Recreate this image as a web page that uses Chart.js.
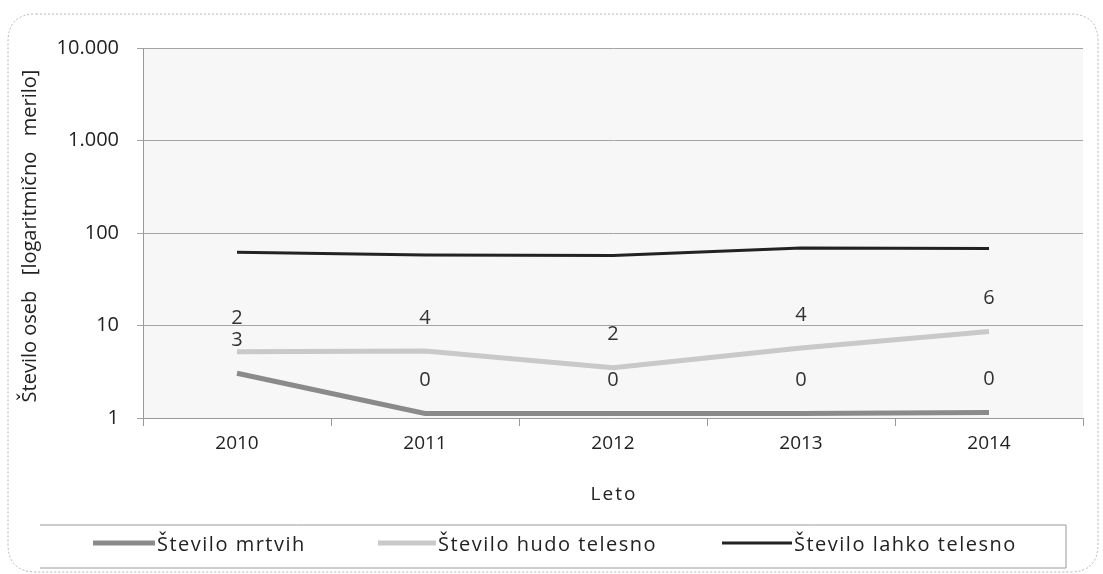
<!DOCTYPE html>
<html><head><meta charset="utf-8">
<script src="https://cdn.jsdelivr.net/npm/chart.js@4/dist/chart.umd.min.js"></script>
<style>html,body{margin:0;padding:0;background:#fff;}#wrap{width:1103px;height:574px;position:relative;}</style>
</head><body><div id="wrap"><canvas id="c" width="1103" height="574"></canvas></div>
<script>
const categories = ['2010','2011','2012','2013','2014'];
const mrtvih = [3.05, 1.12, 1.12, 1.12, 1.15];
const mrtvihLabels = ['3','0','0','0','0'];
const hudo = [5.2, 5.3, 3.5, 5.7, 8.6];
const hudoLabels = ['2','4','2','4','6'];
const lahko = [62, 58, 57, 69, 68];
const yTicks = [1, 10, 100, 1000, 10000];
const seriesNames = ['Število mrtvih','Število hudo telesno','Število lahko telesno'];
const FONT = '"Open Sans", Lato, sans-serif';

const deco = {
  id:'deco',
  beforeDraw(chart){
    const {ctx, chartArea:a} = chart;
    ctx.save();
    ctx.fillStyle = '#f7f7f7';
    ctx.fillRect(a.left, a.top, a.right-a.left, a.bottom-a.top);
    ctx.strokeStyle = '#b5b5b5'; ctx.lineWidth = 1; ctx.setLineDash([2,2]);
    const x0=8,y0=14,x1=1098,y1=572,r=28;
    ctx.beginPath();
    ctx.moveTo(x0+r,y0); ctx.lineTo(x1-r,y0); ctx.quadraticCurveTo(x1,y0,x1,y0+r);
    ctx.lineTo(x1,y1-r); ctx.quadraticCurveTo(x1,y1,x1-r,y1);
    ctx.lineTo(x0+r,y1); ctx.quadraticCurveTo(x0,y1,x0,y1-r);
    ctx.lineTo(x0,y0+r); ctx.quadraticCurveTo(x0,y0,x0+r,y0); ctx.stroke();
    ctx.restore();
  },
  afterDraw(chart){
    const {ctx} = chart;
    ctx.save();
    ctx.font = '20px '+FONT; ctx.fillStyle = '#333'; ctx.textAlign='center'; ctx.textBaseline='middle';
    const lbls = [mrtvihLabels, hudoLabels, null];
    lbls.forEach((L,di)=>{
      if(!L) return;
      chart.getDatasetMeta(di).data.forEach((p,i)=>{ ctx.fillText(L[i], p.x, p.y-33); });
    });
    ctx.font = '19px '+FONT; ctx.fillStyle='#222';
    ctx.letterSpacing = '2px';
    ctx.fillText('Leto', 614, 495);
    ctx.letterSpacing = '0px';
    ctx.save(); ctx.translate(30, 236); ctx.rotate(-Math.PI/2);
    ctx.font = '20px '+FONT;
    ctx.fillText('Število oseb   [logaritmično   merilo]', 0, 0); ctx.restore();
    ctx.strokeStyle='#999'; ctx.lineWidth=1; ctx.setLineDash([]);
    ctx.beginPath(); ctx.moveTo(40,525); ctx.lineTo(1066,525); ctx.lineTo(1066,568); ctx.lineTo(40,568); ctx.stroke();
    const items = [{x:93,w:62,c:'#8a8a8a',lw:5},{x:378,w:58,c:'#c9c9c9',lw:5},{x:722,w:70,c:'#222',lw:3}];
    ctx.font='20px '+FONT; ctx.textAlign='left'; ctx.fillStyle='#222';
    ctx.letterSpacing = '1.5px';
    items.forEach((it,i)=>{
      ctx.strokeStyle=it.c; ctx.lineWidth=it.lw; ctx.beginPath(); ctx.moveTo(it.x,543); ctx.lineTo(it.x+it.w,543); ctx.stroke();
      ctx.fillText(seriesNames[i], it.x+it.w+2, 545);
    });
    ctx.restore();
  }
};

new Chart(document.getElementById('c'), {
  type:'line',
  data:{ labels:categories, datasets:[
    {label:seriesNames[0], data:mrtvih, borderColor:'#8a8a8a', borderWidth:5, pointRadius:0, tension:0},
    {label:seriesNames[1], data:hudo, borderColor:'#c9c9c9', borderWidth:5, pointRadius:0, tension:0},
    {label:seriesNames[2], data:lahko, borderColor:'#222', borderWidth:3, pointRadius:0, tension:0}
  ]},
  plugins:[deco],
  options:{
    responsive:false, animation:false, devicePixelRatio:1,
    layout:{padding:{left:0,right:20,top:48,bottom:0}},
    plugins:{legend:{display:false}, tooltip:{enabled:false}},
    scales:{
      x:{ offset:true,
        grid:{offset:true, drawOnChartArea:false, drawTicks:true, tickLength:8, color:'#999'},
        border:{color:'#999'},
        ticks:{font:{family:FONT,size:19}, color:'#222', padding:6},
        afterFit(s){ s.height = 156; }
      },
      y:{ type:'logarithmic', min:1, max:10000,
        afterBuildTicks(s){ s.ticks = yTicks.map(v=>({value:v})); },
        grid:{color:'#a5a5a5', tickLength:6, borderDash:[1,2]},
        border:{color:'#999'},
        ticks:{font:{family:FONT,size:20}, color:'#222', padding:18,
          callback:(v)=>v.toLocaleString('de-DE')},
        afterFit(s){ s.width = 143; }
      }
    }
  }
});
</script></body></html>
